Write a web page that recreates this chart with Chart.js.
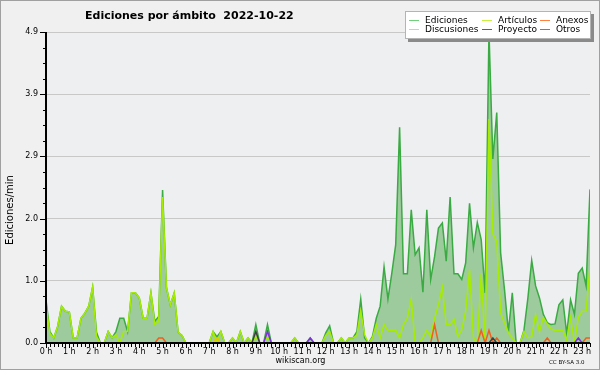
<!DOCTYPE html>
<html><head><meta charset="utf-8">
<script src="https://cdn.jsdelivr.net/npm/chart.js@4/dist/chart.umd.min.js"></script>
<style>
html,body{margin:0;padding:0;background:#f0f0f0;}
#wrap{position:relative;width:600px;height:370px;overflow:hidden;background:#f0f0f0;}
#frame{position:absolute;left:0;top:0;width:598px;height:368px;border:1px solid #a0a0a0;pointer-events:none;}
canvas{position:absolute;left:0;top:0;}
.t{position:absolute;font-family:'DejaVu Sans',sans-serif;color:#000;white-space:nowrap;line-height:1;}
#title{left:85px;top:10px;font-size:11px;font-weight:bold;}
#ytitle{left:-40px;top:205px;width:100px;text-align:center;font-size:10px;transform:rotate(-90deg);}
#site{left:250px;top:357px;width:101px;text-align:center;font-size:8px;}
#cc{left:549px;top:360px;font-size:5.5px;}
#legend{position:absolute;left:405px;top:11px;width:184px;height:26px;background:#fff;border:1px solid #b4b4b4;box-shadow:3px 3px 0 #8a8a8a;}
#legend .it{position:absolute;height:9px;}
#legend .ln{position:absolute;top:4px;left:0;width:10px;height:1px;}
#legend .tx{position:absolute;left:16px;top:0;font-family:'DejaVu Sans',sans-serif;font-size:9px;line-height:9px;white-space:nowrap;}
</style></head>
<body>
<div id="wrap">
<canvas id="c" width="600" height="370"></canvas>
<div class="t" id="title">Ediciones por ámbito&nbsp; 2022-10-22</div>
<div class="t" id="ytitle">Ediciones/min</div>
<div class="t" id="site">wikiscan.org</div>
<div class="t" id="cc">CC BY-SA 3.0</div>
<div id="legend"></div>
<div id="frame"></div>
</div>
<script>
// ---- data (one value per 10 minutes, 00:00 .. 23:20) ----
const hourTickLabels = ['0 h','1 h','2 h','3 h','4 h','5 h','6 h','7 h','8 h','9 h','10 h','11 h',
  '12 h','13 h','14 h','15 h','16 h','17 h','18 h','19 h','20 h','21 h','22 h','23 h'];
const yMax = 4.9;
const yTickLabels = ['0.0','1.0','2.0','2.9','3.9','4.9'];

const ediciones = [
 0.68,0.18,0.08,0.26,0.58,0.50,0.49,0.08,0.08,0.39,0.47,0.58,0.88,0.17,0,0,0.18,0.08,0.18,0.39,
 0.39,0.18,0.79,0.79,0.71,0.39,0.39,0.79,0.34,0.42,2.41,0.87,0.60,0.79,0.17,0.12,0,0,0,0,
 0,0,0,0.18,0.10,0.18,0,0,0.08,0,0.18,0,0.08,0,0.29,0,0,0.29,0,0,
 0,0,0,0,0.08,0,0,0,0.08,0,0,0,0.16,0.27,0,0,0.08,0,0.08,0.08,
 0.18,0.69,0.08,0,0.10,0.39,0.58,1.20,0.69,1.10,1.55,3.40,1.09,1.09,2.10,1.39,1.50,0.80,2.10,1.00,
 1.36,1.81,1.89,1.29,2.30,1.09,1.09,1.00,1.26,2.20,1.50,1.90,1.63,0.79,4.90,2.90,3.63,1.42,0.84,0.18,
 0.79,0,0,0.20,0.70,1.30,0.90,0.71,0.45,0.32,0.29,0.30,0.60,0.68,0.15,0.68,0.45,1.10,1.18,0.90,
 2.42];
const articulos = [
 0.60,0.15,0.08,0.26,0.58,0.50,0.49,0.08,0.08,0.39,0.47,0.58,0.88,0.10,0,0,0.18,0.08,0.13,0,
 0.18,0.18,0.79,0.79,0.71,0.39,0.39,0.79,0.29,0.34,2.30,0.87,0.60,0.79,0.17,0.12,0,0,0,0,
 0,0,0,0.18,0,0.18,0,0,0.08,0,0.18,0,0.08,0,0.10,0,0,0.10,0,0,
 0,0,0,0,0.08,0,0,0,0,0,0,0,0.12,0.18,0,0,0.08,0,0.08,0.08,
 0.12,0.50,0.13,0,0.08,0.29,0.08,0.29,0.20,0.20,0.20,0.08,0.29,0.39,0.69,0,0,0.08,0.20,0.10,
 0.39,0.60,0.88,0.29,0.29,0.37,0.10,0.21,0.50,1.15,0.08,0,1.10,0,3.53,1.72,1.60,0.47,0.32,0.16,
 0.08,0,0,0.18,0.08,0.10,0.45,0.18,0.40,0.30,0.22,0.20,0.20,0.20,0.05,0.40,0,0.40,0.50,0.50,
 1.21];
const anexos = [
 0,0,0,0,0,0,0,0,0,0,0,0,0,0,0,0,0,0,0,0,
 0,0,0,0,0,0,0,0,0,0.08,0.08,0,0,0,0,0,0,0,0,0,
 0,0,0,0,0,0,0,0,0,0,0,0,0,0,0,0,0,0,0,0,
 0,0,0,0,0,0,0,0,0,0,0,0,0,0,0,0,0,0,0,0,
 0,0,0,0,0,0,0,0,0,0,0,0,0,0,0,0,0,0,0,0,
 0.29,0,0,0,0,0,0,0,0,0,0,0,0.20,0,0.20,0,0.08,0,0,0,
 0,0,0,0,0,0,0,0,0,0.08,0,0,0,0,0,0,0,0,0,0.08,
 0.08];
const discusiones = [
 0,0,0,0,0,0,0,0,0,0,0,0,0,0,0,0,0,0,0,0,
 0,0,0,0,0,0,0,0,0,0,0,0,0,0,0,0,0,0,0,0,
 0,0,0,0,0.08,0,0,0,0,0,0,0,0,0,0,0,0,0,0,0,
 0,0,0,0,0,0,0,0,0,0,0,0,0,0,0,0,0,0,0,0,
 0,0,0,0,0,0,0,0,0,0,0,0,0,0,0,0,0,0,0,0,
 0,0,0,0,0,0,0,0,0,0,0,0,0,0,0,0,0,0,0,0,
 0,0,0,0,0,0,0,0,0,0,0,0,0,0,0,0,0,0,0,0,
 0];
const proyecto = [
 0,0,0,0,0,0,0,0,0,0,0,0,0,0,0,0,0,0,0,0,
 0,0,0,0,0,0,0,0,0,0,0,0,0,0,0,0,0,0,0,0,
 0,0,0,0,0,0,0,0,0,0,0,0,0,0,0.18,0,0,0,0,0,
 0,0,0,0,0,0,0,0,0,0,0,0,0,0,0,0,0,0,0,0,
 0,0,0,0,0,0,0,0,0,0,0,0,0,0,0,0,0,0,0,0,
 0,0,0,0,0,0,0,0,0,0,0,0,0,0,0,0.08,0,0,0,0,
 0,0,0,0,0,0,0,0,0,0,0,0,0,0,0,0,0,0,0,0,
 0];
const otros = [
 0,0,0,0,0,0,0,0,0,0,0,0,0,0,0,0,0,0,0,0,
 0,0,0,0,0,0,0,0,0,0,0,0,0,0,0,0,0,0,0,0,
 0,0,0,0,0,0,0,0,0,0,0,0,0,0,0,0,0,0.18,0,0,
 0,0,0,0,0,0,0,0,0.08,0,0,0,0,0,0,0,0,0,0,0,
 0,0,0,0,0,0,0,0,0,0,0,0,0,0,0,0,0,0,0,0,
 0,0,0,0,0,0,0,0,0,0,0,0,0,0,0,0,0,0,0,0,
 0,0,0,0,0,0,0,0,0,0,0,0,0,0,0,0,0,0.08,0,0,
 0];

const timeLabels = ediciones.map((_, i) => Math.floor(i / 6) + ':' + String((i % 6) * 10).padStart(2, '0'));

const series = [
  {name:'Ediciones',   data:ediciones,   color:'#3aaa42', legend:'#6fcf7a'},
  {name:'Artículos',   data:articulos,   color:'#a6ec00', legend:'#c8f040'},
  {name:'Anexos',      data:anexos,      color:'#f06020', legend:'#ff8040'},
  {name:'Discusiones', data:discusiones, color:'#f0c000', legend:'#ffd030'},
  {name:'Proyecto',    data:proyecto,    color:'#404040', legend:'#606060'},
  {name:'Otros',       data:otros,       color:'#8030e0', legend:'#a050ff'}
];

// legend (3 columns x 2 rows)
const legendPos = [[3,4],[76,4],[134,4],[3,13],[76,13],[134,13]];
const lg = document.getElementById('legend');
series.forEach((s, k) => {
  const it = document.createElement('div');
  it.className = 'it';
  it.style.left = legendPos[k][0] + 'px';
  it.style.top = legendPos[k][1] + 'px';
  it.innerHTML = '<div class="ln" style="background:' + s.legend + '"></div><div class="tx">' + s.name + '</div>';
  lg.appendChild(it);
});

const bgPlugin = {
  id: 'bg',
  beforeDraw(chart) {
    const {ctx, chartArea: a} = chart;
    ctx.save();
    ctx.fillStyle = '#f0f0f0';
    ctx.fillRect(0, 0, chart.width, chart.height);
    ctx.fillStyle = '#edeff1';
    ctx.fillRect(a.left, a.top, a.right - a.left, a.bottom - a.top);
    ctx.restore();
  }
};
const axesPlugin = {
  id: 'axes',
  afterDraw(chart) {
    const {ctx, chartArea: a, scales: {x, y}} = chart;
    ctx.save();
    ctx.strokeStyle = '#000';
    ctx.lineWidth = 1;
    y.ticks.forEach((t, k) => {
      const py = Math.round(y.getPixelForValue(t.value)) + 0.5;
      const len = k % 4 === 0 ? 6 : 3;
      ctx.beginPath(); ctx.moveTo(a.left - len, py); ctx.lineTo(a.left, py); ctx.stroke();
    });
    timeLabels.forEach((_, i) => {
      const px = Math.round(x.getPixelForValue(i)) + 0.5;
      const len = i % 6 === 0 ? 5 : 4;
      ctx.beginPath(); ctx.moveTo(px, a.bottom); ctx.lineTo(px, a.bottom + len); ctx.stroke();
    });
    ctx.lineWidth = 2;
    ctx.beginPath();
    ctx.moveTo(a.left, a.top); ctx.lineTo(a.left, a.bottom); ctx.lineTo(a.right, a.bottom);
    ctx.stroke();
    ctx.restore();
  }
};

Chart.defaults.font.family = "'DejaVu Sans', sans-serif";
Chart.defaults.font.size = 8;
Chart.defaults.color = '#000';

new Chart(document.getElementById('c'), {
  type: 'line',
  data: {
    labels: timeLabels,
    datasets: series.map((s, k) => ({
      label: s.name,
      data: s.data,
      borderColor: s.color,
      backgroundColor: k === 0 ? '#9ecb9e' : s.color,
      fill: k === 0 ? 'origin' : false,
      borderWidth: 1.5,
      clip: 0,
      order: 10 - k
    }))
  },
  options: {
    responsive: false,
    devicePixelRatio: 1,
    animation: false,
    events: [],
    layout: {padding: {left: 0, right: 10, top: 32, bottom: 0}},
    elements: {point: {radius: 0}, line: {tension: 0}},
    plugins: {legend: {display: false}, title: {display: false}, tooltip: {enabled: false}},
    scales: {
      x: {
        type: 'category',
        offset: false,
        grid: {display: false, drawTicks: false},
        border: {display: false},
        afterFit: s => { s.height = 27; },
        ticks: {
          autoSkip: false, maxRotation: 0, minRotation: 0, padding: 4,
          callback: (v, i) => (i % 6 === 0 ? hourTickLabels[i / 6] : '')
        }
      },
      y: {
        min: 0, max: yMax,
        afterBuildTicks: s => { s.ticks = Array.from({length: 21}, (_, k) => ({value: k * yMax / 20})); },
        afterFit: s => { s.width = 46; },
        grid: {
          drawTicks: false,
          color: c => (c.index % 4 === 0 && c.index > 0 ? '#c8c8c8' : 'rgba(0,0,0,0)')
        },
        border: {display: false},
        ticks: {
          autoSkip: false, padding: 8,
          callback: (v, i) => (i % 4 === 0 ? yTickLabels[i / 4] : '')
        }
      }
    }
  },
  plugins: [bgPlugin, axesPlugin]
});
</script>
</body></html>
